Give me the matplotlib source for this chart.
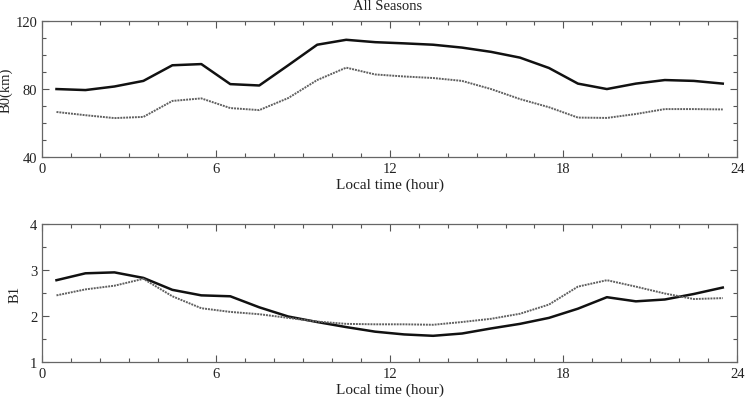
import matplotlib.pyplot as plt
import numpy as np
from matplotlib.ticker import MultipleLocator

plt.rcParams['font.family'] = ['Liberation Serif', 'DejaVu Serif']

# local time (hour), centre of each hourly bin
hours = np.arange(0.5, 24, 1.0)

# B0 (km)
b0_solid = [80.0, 79.4, 81.5, 84.8, 94.0, 94.7, 82.9, 82.1, 94.0, 106.1, 109.0, 107.6,
            106.9, 106.1, 104.4, 101.9, 98.5, 92.4, 83.2, 80.0, 83.2, 85.3, 84.8, 83.2]
b0_dotted = [66.5, 64.6, 62.9, 63.6, 73.0, 74.5, 68.8, 67.6, 74.7, 85.3, 92.6, 88.6,
             87.4, 86.5, 84.8, 80.0, 74.1, 69.3, 63.2, 63.0, 65.3, 68.2, 68.2, 68.0]

# B1
b1_solid = [2.78, 2.93, 2.95, 2.83, 2.57, 2.45, 2.43, 2.19, 1.99, 1.87, 1.76, 1.66,
            1.60, 1.57, 1.62, 1.73, 1.83, 1.96, 2.16, 2.41, 2.32, 2.36, 2.48, 2.62]
b1_dotted = [2.45, 2.58, 2.66, 2.81, 2.43, 2.17, 2.09, 2.04, 1.96, 1.88, 1.83, 1.82,
             1.82, 1.81, 1.87, 1.94, 2.05, 2.25, 2.64, 2.78, 2.64, 2.49, 2.37, 2.39]

fig = plt.figure(figsize=(7.5, 4.02), dpi=100)
ax1 = fig.add_axes([0.056, 0.607, 0.927, 0.338])
ax2 = fig.add_axes([0.056, 0.097, 0.927, 0.343])


def style(ax, ymaj, ymin):
    ax.set_xlim(0, 24)
    ax.xaxis.set_major_locator(MultipleLocator(6))
    ax.xaxis.set_minor_locator(MultipleLocator(1))
    ax.yaxis.set_major_locator(MultipleLocator(ymaj))
    ax.yaxis.set_minor_locator(MultipleLocator(ymin))
    ax.tick_params(which='both', direction='in', top=True, right=True,
                   colors='#555555', labelcolor='#222222', labelsize=10.5, width=0.8)
    ax.tick_params(which='major', length=5)
    ax.tick_params(which='minor', length=3)
    for s in ax.spines.values():
        s.set_color('#666666')
        s.set_linewidth(0.9)
    ax.set_xlabel('Local time (hour)', fontsize=11, color='#222222', labelpad=2)


ax1.plot(hours, b0_solid, color='#111111', lw=1.8)
ax1.plot(hours, b0_dotted, color='#606060', lw=1.4, ls=(0, (1, 0.5)))
ax1.set_ylim(40, 120)
style(ax1, 40, 10)
ax1.set_ylabel('B0(km)', fontsize=10.5, color='#222222', labelpad=2)

ax2.plot(hours, b1_solid, color='#111111', lw=1.8)
ax2.plot(hours, b1_dotted, color='#606060', lw=1.4, ls=(0, (1, 0.5)))
ax2.set_ylim(1, 4)
style(ax2, 1, 0.5)
ax2.set_ylabel('B1', fontsize=10.5, color='#222222', labelpad=6)

fig.text(0.517, 0.999, 'All Seasons', ha='center', va='top', fontsize=10.5, color='#222222')

fig.savefig('out.png', dpi=100)
